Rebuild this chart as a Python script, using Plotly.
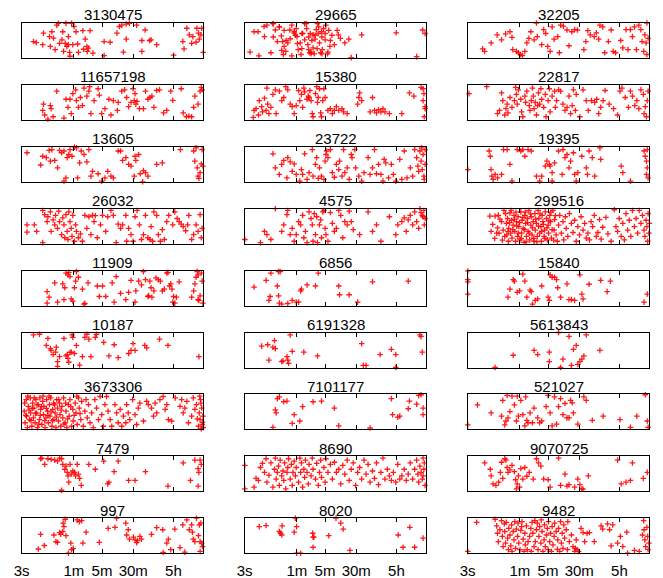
import math
import plotly.graph_objects as go

# Each panel: list of (log10 of interval in seconds, vertical jitter position 0..1)
p3130475 = [(0.77,0.47),(0.84,0.44),(1.02,0.71),(1.00,0.38),(1.19,0.33),(1.17,0.61),(1.23,0.75),(1.27,0.57),(1.31,0.24),(1.35,0.94),(1.39,0.99),(1.37,-0.05),(1.42,0.42),(1.48,0.52),(1.50,0.75),(1.52,0.19),(1.56,0.42),(1.58,0.99),(1.60,0.33),(1.64,0.38),(1.64,0.61),(1.68,0.05),(1.72,0.99),(1.67,0.16),(1.78,0.90),(1.75,0.38),(1.83,0.75),(1.87,0.40),(1.89,0.16),(2.00,0.78),(2.02,0.25),(2.06,0.54),(2.10,0.33),(2.14,0.28),(2.18,0.78),(2.25,0.14),(2.11,0.19),(2.53,0.47),(2.53,0.07),(2.68,0.45),(2.85,0.71),(2.91,0.90),(2.97,0.94),(3.08,0.54),(3.08,0.97),(3.16,0.99),(3.34,0.94),(3.01,0.17),(3.47,0.19),(3.47,0.50),(3.55,0.80),(3.66,0.50),(3.70,0.52),(3.84,0.38),(4.26,0.08),(4.49,0.47),(4.52,0.26),(4.59,0.85),(4.65,0.66),(4.71,0.42),(4.74,0.61),(4.84,0.85),(4.88,0.71),(4.90,0.54),(4.94,0.66),(4.96,0.85),(5.00,0.16),(4.82,0.45)]

p29665 = [(0.61,0.17),(0.71,0.75),(0.81,0.75),(0.83,0.06),(0.97,0.61),(1.03,0.94),(1.18,0.98),(1.24,0.80),(1.34,0.89),(1.39,0.63),(1.42,0.47),(1.46,0.33),(1.50,0.19),(1.55,0.43),(1.60,0.80),(1.65,0.94),(1.71,0.75),(1.76,0.84),(1.78,0.61),(1.81,0.24),(1.86,0.43),(1.88,0.10),(1.92,0.70),(1.97,0.98),(2.02,0.84),(2.05,0.38),(2.07,0.24),(2.10,0.15),(2.13,0.17),(2.18,0.66),(2.23,0.54),(2.26,0.81),(2.31,0.70),(2.34,0.43),(2.37,0.15),(2.39,0.75),(2.41,0.24),(2.44,0.84),(2.50,0.94),(2.55,0.17),(2.60,0.33),(2.71,0.38),(2.81,0.66),(2.86,0.56),(2.97,0.43),(3.07,0.54),(3.13,0.01),(3.39,0.66),(4.25,0.72),(4.76,0.04),(4.91,0.80),(4.97,0.70),(1.44,0.10),(1.65,0.06),(1.97,0.52),(2.18,0.29),(2.29,0.98),(2.48,0.52),(1.13,0.15),(1.29,0.47),(0.96,0.90),(1.19,0.98),(1.34,0.89),(1.46,0.79),(1.51,0.50),(1.61,0.55),(1.71,0.71),(1.74,0.65),(1.79,0.41),(1.90,0.70),(2.01,0.98),(2.07,0.60),(2.11,0.70),(2.15,0.50),(2.23,0.65),(2.32,0.89),(2.40,0.60),(2.48,0.70),(2.57,0.79),(2.65,0.65),(2.78,0.79),(2.13,0.12),(2.21,0.12),(2.40,0.12),(2.54,0.12),(1.40,0.22),(1.90,0.27),(2.28,0.27),(2.61,0.50),(1.19,0.60)]

p32205 = [(0.85,0.26),(0.90,0.19),(1.06,0.43),(1.21,0.66),(1.32,0.52),(1.42,0.69),(1.53,0.75),(1.58,0.59),(1.60,0.24),(1.69,0.19),(1.74,0.15),(1.79,0.10),(1.84,0.07),(1.90,0.19),(1.95,0.43),(2.00,0.56),(2.05,0.75),(2.13,0.52),(2.19,1.00),(2.21,0.61),(2.32,0.38),(2.37,0.81),(2.42,0.70),(2.47,0.33),(2.53,0.19),(2.58,0.89),(2.63,0.54),(2.72,0.61),(2.76,0.15),(2.79,0.94),(2.86,0.91),(2.95,0.80),(3.00,0.35),(3.07,0.75),(3.14,0.81),(3.21,0.80),(3.37,0.24),(3.42,0.47),(3.47,0.78),(3.53,0.66),(3.63,0.61),(3.68,0.72),(3.74,0.54),(3.77,0.94),(3.84,0.89),(3.89,0.15),(3.98,0.47),(4.05,0.80),(4.10,0.19),(4.16,0.15),(4.29,0.50),(4.34,0.29),(4.42,0.81),(4.47,0.24),(4.53,0.81),(4.58,0.61),(4.63,0.89),(4.68,0.24),(4.74,0.94),(4.79,0.81),(4.82,0.47),(4.86,0.19),(4.89,0.66),(4.92,0.43),(4.94,1.00),(4.94,0.10),(4.97,0.56)]

p11657198 = [(1.00,0.27),(1.02,0.45),(1.05,0.14),(1.13,0.02),(1.19,0.41),(1.21,0.32),(1.26,0.09),(1.30,-0.02),(1.35,0.82),(1.53,0.05),(1.58,0.59),(1.63,0.36),(1.68,0.59),(1.71,0.18),(1.75,0.75),(1.82,0.86),(1.84,0.55),(1.89,0.36),(1.94,0.64),(1.99,0.41),(2.03,0.91),(2.10,0.68),(2.15,0.82),(2.17,0.95),(2.20,0.18),(2.28,0.55),(2.38,0.89),(2.41,0.71),(2.47,0.18),(2.55,0.32),(2.65,0.59),(2.70,0.14),(2.76,0.55),(2.86,0.27),(2.88,0.50),(2.97,0.82),(3.04,0.86),(3.09,0.64),(3.14,0.38),(3.20,0.50),(3.25,0.89),(3.28,0.55),(3.30,0.75),(3.32,0.45),(3.35,0.53),(3.41,0.32),(3.51,0.32),(3.56,0.82),(3.62,0.59),(3.67,0.64),(3.72,0.68),(3.77,0.36),(3.84,0.84),(3.91,0.86),(4.01,0.20),(4.09,0.27),(4.19,0.82),(4.24,0.56),(4.45,0.89),(4.50,0.20),(4.58,0.09),(4.64,0.11),(4.71,0.09),(4.76,0.36),(4.79,0.68),(4.87,0.45),(4.92,0.82),(4.95,0.93),(4.97,0.86)]

p15380 = [(0.69,0.07),(0.71,0.27),(0.76,0.32),(0.82,0.14),(0.84,0.55),(0.90,0.38),(0.92,0.23),(0.97,0.62),(1.01,0.27),(1.03,0.91),(1.05,0.45),(1.08,0.18),(1.13,0.36),(1.18,0.73),(1.24,0.86),(1.26,0.18),(1.34,0.82),(1.40,0.55),(1.45,0.64),(1.50,0.95),(1.55,0.86),(1.61,0.45),(1.66,0.38),(1.71,0.18),(1.76,0.41),(1.82,0.84),(1.85,0.55),(1.89,0.73),(1.92,0.36),(1.95,0.91),(1.97,0.80),(2.03,0.59),(2.06,0.68),(2.08,0.64),(2.10,0.84),(2.13,0.55),(2.16,0.18),(2.18,0.09),(2.24,0.75),(2.27,0.95),(2.29,0.50),(2.31,0.64),(2.34,0.89),(2.37,0.20),(2.39,0.09),(2.42,0.55),(2.45,0.89),(2.48,0.64),(2.55,0.27),(2.61,0.32),(2.66,0.18),(2.71,0.27),(2.76,0.38),(2.82,0.27),(2.90,0.32),(2.94,0.23),(3.03,0.18),(3.32,0.64),(3.29,0.45),(3.34,0.77),(3.39,0.55),(3.60,0.23),(3.66,0.64),(3.71,0.27),(3.76,0.20),(3.81,0.29),(3.87,0.23),(3.92,0.32),(3.97,0.23),(4.08,0.18),(4.39,0.18),(4.58,0.77),(4.69,0.68),(4.87,0.93),(4.92,0.89),(4.94,0.75),(4.97,0.38),(4.97,0.32),(4.95,0.09),(4.92,0.55)]

p22817 = [(0.51,0.75),(0.95,0.95),(1.22,0.18),(1.27,0.27),(1.32,0.77),(1.35,0.55),(1.40,0.14),(1.43,0.32),(1.46,0.45),(1.48,0.20),(1.53,0.64),(1.58,0.36),(1.64,0.55),(1.67,0.93),(1.69,0.73),(1.71,0.45),(1.74,0.86),(1.80,0.59),(1.82,0.23),(1.85,0.09),(1.90,0.68),(1.92,0.50),(1.95,0.82),(2.01,0.41),(2.03,0.27),(2.06,0.55),(2.09,0.91),(2.11,0.68),(2.13,0.32),(2.16,0.50),(2.19,0.14),(2.22,0.41),(2.24,0.77),(2.27,0.45),(2.30,0.89),(2.32,0.59),(2.37,0.36),(2.41,0.73),(2.43,0.09),(2.48,0.55),(2.51,0.89),(2.53,0.23),(2.58,0.68),(2.64,0.82),(2.66,0.36),(2.69,0.55),(2.74,0.86),(2.79,0.82),(2.85,0.45),(2.90,0.27),(2.95,0.36),(3.00,0.68),(3.04,0.18),(3.08,0.41),(3.11,0.86),(3.16,0.27),(3.18,0.73),(3.27,0.09),(3.35,0.86),(3.43,0.55),(3.48,0.27),(3.56,0.55),(3.64,0.50),(3.69,0.59),(3.74,0.18),(3.79,0.36),(3.85,0.55),(3.90,0.84),(4.00,0.45),(4.11,0.32),(4.21,0.14),(4.27,0.82),(4.32,0.91),(4.40,0.64),(4.48,0.36),(4.53,0.82),(4.58,0.68),(4.64,0.41),(4.69,0.55),(4.74,0.32),(4.79,0.86),(4.85,0.73),(4.87,0.18),(4.90,0.38),(4.93,0.09),(4.95,0.55),(4.97,0.82)]

p13605 = [(0.61,0.83),(0.95,0.48),(1.00,0.73),(1.09,0.69),(1.16,0.90),(1.19,0.59),(1.23,0.92),(1.30,0.61),(1.37,0.40),(1.42,0.90),(1.47,0.83),(1.53,0.88),(1.53,0.02),(1.58,0.11),(1.61,0.69),(1.65,0.78),(1.68,0.92),(1.73,0.73),(1.79,0.99),(1.84,0.97),(1.87,0.11),(1.92,0.54),(1.96,0.88),(2.03,0.78),(2.10,0.57),(2.15,0.92),(2.20,0.16),(2.24,0.30),(2.38,0.23),(2.47,0.02),(2.55,0.11),(2.62,0.30),(2.70,0.16),(2.76,0.11),(2.88,0.88),(2.94,0.88),(2.99,0.61),(3.07,0.69),(3.14,0.50),(3.20,0.45),(3.28,0.16),(3.30,0.73),(3.32,0.61),(3.39,0.78),(3.43,0.23),(3.49,0.00),(3.51,0.32),(3.56,0.26),(3.62,0.16),(3.80,1.02),(3.84,0.50),(3.98,0.54),(4.43,0.92),(4.76,0.88),(4.82,0.97),(4.79,0.59),(4.85,0.40),(4.87,0.16),(4.89,0.10),(4.92,0.26),(4.95,0.51),(4.97,0.92),(4.99,0.45)]

p23722 = [(1.18,0.80),(1.24,0.40),(1.34,0.21),(1.40,0.50),(1.45,0.61),(1.53,0.11),(1.55,0.69),(1.61,0.57),(1.66,0.30),(1.71,0.51),(1.76,0.21),(1.85,0.02),(1.89,0.35),(1.92,0.21),(1.97,0.80),(2.03,0.07),(2.08,0.26),(2.16,0.92),(2.18,0.16),(2.24,0.50),(2.27,0.69),(2.31,0.10),(2.34,0.40),(2.39,0.16),(2.45,0.07),(2.48,0.59),(2.50,0.78),(2.52,0.88),(2.55,0.69),(2.61,0.92),(2.66,0.26),(2.71,0.13),(2.76,0.50),(2.82,0.35),(2.84,0.59),(2.90,0.16),(2.94,0.92),(2.97,0.26),(3.03,0.40),(3.08,0.07),(3.13,0.78),(3.15,0.69),(3.22,0.92),(3.24,0.40),(3.32,0.16),(3.39,0.02),(3.45,0.26),(3.55,0.69),(3.60,0.21),(3.66,0.40),(3.71,0.92),(3.76,0.23),(3.81,0.50),(3.87,0.21),(3.92,0.02),(3.95,0.64),(3.99,0.54),(4.06,0.11),(4.13,0.50),(4.18,0.21),(4.24,0.02),(4.34,0.64),(4.39,0.07),(4.45,0.88),(4.52,0.11),(4.60,0.40),(4.66,0.16),(4.71,0.92),(4.76,0.69),(4.79,0.45),(4.81,0.30),(4.84,0.88),(4.87,0.59),(4.90,0.35),(4.92,0.78),(4.94,0.16),(4.97,0.92),(4.97,0.50),(4.95,0.07),(4.88,0.97)]

p19395 = [(0.48,0.35),(1.01,0.88),(1.04,0.73),(1.06,0.35),(1.08,0.16),(1.11,0.07),(1.16,0.21),(1.22,0.11),(1.32,0.21),(1.37,0.92),(1.46,0.92),(1.53,0.50),(1.58,0.02),(1.71,0.92),(1.80,0.88),(1.85,0.92),(1.90,0.73),(1.98,0.92),(2.06,0.88),(2.13,1.02),(2.19,0.16),(2.27,0.02),(2.32,0.16),(2.41,0.45),(2.45,0.59),(2.51,0.50),(2.53,0.45),(2.58,0.02),(2.58,0.26),(2.64,0.54),(2.74,0.88),(2.83,0.21),(2.85,0.92),(2.90,0.69),(2.95,0.78),(3.00,0.40),(3.04,0.59),(3.11,0.83),(3.14,0.21),(3.18,0.02),(3.22,0.26),(3.32,0.73),(3.43,0.40),(3.46,0.21),(3.50,0.88),(3.58,0.69),(3.64,0.16),(3.77,0.97),(3.79,0.64),(4.00,1.02),(4.30,0.45),(4.34,0.26),(4.53,0.02),(4.85,1.02),(4.87,0.88),(4.90,0.73),(4.93,0.59),(4.95,0.40),(4.93,0.21),(4.97,0.11),(4.95,0.92)]

p26032 = [(0.61,0.54),(0.61,0.33),(0.79,0.54),(0.85,0.35),(1.00,0.03),(1.00,0.95),(1.05,0.83),(1.11,0.63),(1.13,0.77),(1.19,0.91),(1.21,0.35),(1.26,0.68),(1.30,0.54),(1.32,0.81),(1.37,0.44),(1.40,0.93),(1.42,0.63),(1.47,0.26),(1.50,0.74),(1.53,0.54),(1.55,0.17),(1.58,0.83),(1.61,0.35),(1.63,0.12),(1.65,0.91),(1.68,0.63),(1.71,0.44),(1.73,0.21),(1.75,0.81),(1.79,0.07),(1.82,0.54),(1.84,0.35),(1.89,0.17),(1.94,0.28),(1.99,0.07),(2.05,0.81),(2.10,0.44),(2.15,0.77),(2.20,0.26),(2.24,0.81),(2.28,0.63),(2.31,0.80),(2.36,0.17),(2.44,0.54),(2.49,0.81),(2.57,0.35),(2.62,0.77),(2.70,0.95),(2.76,0.81),(2.83,0.03),(2.88,0.56),(2.94,0.44),(2.99,0.54),(3.07,0.81),(3.09,0.07),(3.14,0.44),(3.20,0.26),(3.25,0.07),(3.30,0.77),(3.35,0.95),(3.41,0.54),(3.46,0.12),(3.51,0.26),(3.56,0.81),(3.62,0.17),(3.67,0.12),(3.70,0.49),(3.74,0.07),(3.77,0.91),(3.84,0.81),(3.88,0.26),(3.93,0.07),(3.98,0.40),(4.03,0.12),(4.09,0.63),(4.14,0.81),(4.24,0.54),(4.29,0.91),(4.35,0.72),(4.40,0.63),(4.45,0.56),(4.50,0.49),(4.56,0.37),(4.61,0.54),(4.64,0.81),(4.71,0.12),(4.76,0.26),(4.82,0.54),(4.87,0.35),(4.92,0.83),(4.95,0.17),(4.97,0.44)]

p4575 = [(0.48,0.12),(0.87,0.03),(0.97,0.35),(1.03,0.26),(1.13,0.12),(1.24,1.00),(1.40,0.35),(1.45,0.54),(1.53,0.83),(1.55,0.95),(1.61,0.26),(1.66,0.44),(1.71,0.07),(1.76,0.26),(1.82,0.63),(1.87,0.54),(1.92,0.81),(1.95,0.17),(1.99,0.35),(2.03,0.03),(2.08,0.91),(2.13,0.72),(2.16,0.54),(2.18,0.07),(2.21,0.86),(2.24,0.26),(2.27,0.77),(2.29,0.03),(2.34,0.54),(2.37,0.68),(2.39,0.17),(2.42,0.91),(2.45,0.95),(2.48,0.44),(2.50,0.26),(2.55,0.07),(2.61,0.89),(2.66,0.58),(2.71,0.35),(2.76,0.44),(2.82,0.95),(2.87,0.81),(2.92,0.17),(2.97,0.63),(3.03,0.54),(3.08,0.93),(3.13,0.63),(3.18,0.40),(3.34,0.26),(3.55,0.91),(3.66,0.35),(3.76,0.54),(3.87,0.07),(4.08,0.77),(4.24,0.26),(4.29,0.54),(4.39,0.63),(4.45,0.74),(4.50,0.35),(4.55,0.68),(4.60,0.81),(4.66,0.54),(4.71,0.91),(4.76,0.63),(4.81,0.44),(4.87,0.89),(4.92,0.77),(4.94,0.95),(4.97,0.72),(4.95,0.54),(4.90,0.81),(4.84,1.00)]

p299516 = [(1.03,0.79),(1.06,0.35),(1.16,0.79),(1.20,0.30),(1.24,0.81),(1.32,0.63),(1.36,0.39),(1.40,0.21),(1.42,0.86),(1.44,0.58),(1.47,0.72),(1.49,0.07),(1.50,0.44),(1.53,0.88),(1.55,0.30),(1.57,0.67),(1.58,0.16),(1.61,0.53),(1.63,0.81),(1.65,0.35),(1.67,0.07),(1.69,0.63),(1.72,0.21),(1.73,0.77),(1.75,0.49),(1.78,0.11),(1.80,0.91),(1.82,0.30),(1.83,0.67),(1.86,0.44),(1.88,0.04),(1.90,0.81),(1.92,0.58),(1.94,0.21),(1.96,0.72),(1.98,0.35),(2.00,0.95),(2.02,0.11),(2.05,0.53),(2.06,0.77),(2.08,0.25),(2.11,0.63),(2.13,0.07),(2.15,0.86),(2.16,0.39),(2.19,0.58),(2.21,0.21),(2.23,0.95),(2.25,0.72),(2.27,0.30),(2.30,0.49),(2.31,0.07),(2.33,0.81),(2.35,0.63),(2.38,0.21),(2.39,0.39),(2.41,0.91),(2.44,0.72),(2.46,0.11),(2.48,0.53),(2.49,0.30),(2.52,0.81),(2.54,0.63),(2.56,0.16),(2.60,0.95),(2.63,0.39),(2.64,0.69),(2.68,0.25),(2.71,0.07),(2.74,0.53),(2.77,0.81),(2.81,0.30),(2.85,0.63),(2.87,0.11),(2.91,0.77),(2.93,0.44),(2.97,0.21),(3.01,0.86),(3.06,0.58),(3.10,0.32),(3.14,0.67),(3.18,0.07),(3.22,0.49),(3.26,0.25),(3.30,0.77),(3.35,0.39),(3.39,0.58),(3.43,0.16),(3.47,0.30),(3.51,0.11),(3.55,0.63),(3.59,0.49),(3.63,0.81),(3.68,0.21),(3.72,0.32),(3.76,0.69),(3.80,0.13),(3.84,0.47),(3.92,0.75),(3.97,0.28),(4.05,0.07),(4.13,0.97),(4.17,0.49),(4.21,0.35),(4.25,0.72),(4.30,0.21),(4.34,0.58),(4.38,0.11),(4.42,0.86),(4.46,0.39),(4.50,0.67),(4.54,0.21),(4.58,0.95),(4.63,0.49),(4.67,0.72),(4.71,0.30),(4.75,0.95),(4.79,0.58),(4.83,0.81),(4.87,0.39),(4.89,0.21),(4.92,0.67),(4.94,0.49),(4.96,0.07),(4.97,0.86),(4.99,0.30),(5.00,0.58),(1.10,0.55),(1.15,0.15),(1.22,0.45),(1.28,0.70),(1.34,0.10),(1.38,0.95),(1.45,0.25),(1.52,0.60),(1.56,0.95),(1.60,0.40),(1.64,0.70),(1.70,0.50),(1.74,0.30),(1.77,0.60),(1.81,0.15),(1.85,0.75),(1.89,0.40),(1.93,0.05),(1.97,0.60),(2.01,0.30),(2.04,0.85),(2.09,0.45),(2.12,0.15),(2.17,0.70),(2.20,0.05),(2.24,0.50),(2.28,0.85),(2.32,0.35),(2.36,0.55),(2.40,0.15),(2.45,0.45),(2.50,0.65),(2.55,0.90),(2.58,0.40),(2.62,0.10),(2.66,0.80),(1.26,0.30),(1.48,0.35),(1.68,0.90),(1.91,0.90)]

p11909 = [(1.11,0.40),(1.16,0.24),(1.11,0.07),(1.30,0.65),(1.37,0.10),(1.50,0.62),(1.53,0.17),(1.55,0.51),(1.58,0.93),(1.63,0.88),(1.65,0.95),(1.68,0.83),(1.71,0.19),(1.75,0.13),(1.79,0.51),(1.82,0.70),(1.84,0.97),(1.89,0.81),(1.99,0.47),(2.03,0.04),(2.05,0.06),(2.13,0.65),(2.36,0.56),(2.41,0.26),(2.49,0.56),(2.57,0.26),(2.73,0.65),(2.78,0.10),(2.83,0.83),(2.94,0.35),(3.07,0.17),(3.14,0.38),(3.20,0.72),(3.30,0.10),(3.32,0.42),(3.39,0.70),(3.46,0.59),(3.51,0.97),(3.56,0.74),(3.62,0.26),(3.64,0.28),(3.67,0.70),(3.70,0.51),(3.72,0.24),(3.77,0.42),(3.82,0.79),(3.88,0.74),(3.93,0.70),(3.98,0.42),(4.03,0.47),(4.09,0.93),(4.12,0.95),(4.16,0.56),(4.19,0.62),(4.22,0.47),(4.24,0.10),(4.26,0.26),(4.29,0.07),(4.33,0.24),(4.40,0.68),(4.71,0.24),(4.76,0.42),(4.79,0.62),(4.82,0.81),(4.85,0.97),(4.87,0.88),(4.89,0.15),(4.92,0.28),(4.95,0.93),(4.97,0.70),(4.99,0.07),(4.87,0.17)]

p6856 = [(0.71,0.53),(1.01,0.72),(1.08,0.15),(1.11,0.26),(1.13,0.93),(1.32,0.97),(1.36,0.97),(1.29,0.56),(1.32,0.28),(1.34,0.07),(1.40,0.04),(1.55,0.06),(1.66,0.15),(1.76,0.10),(1.82,0.10),(1.87,0.42),(1.89,0.47),(2.03,0.59),(2.24,0.56),(2.31,0.93),(2.82,0.56),(2.84,0.31),(3.08,0.31),(3.29,0.10),(3.66,0.68),(4.55,0.70)]

p15840 = [(0.48,0.99),(0.48,0.74),(0.48,0.68),(0.48,0.33),(1.48,0.24),(1.53,0.47),(1.61,0.74),(1.64,0.70),(1.71,0.38),(1.77,0.42),(1.85,0.90),(1.90,0.70),(1.95,0.24),(2.03,0.44),(2.06,0.40),(2.09,0.04),(2.16,0.15),(2.22,0.19),(2.32,0.56),(2.48,0.24),(2.51,0.15),(2.53,0.88),(2.58,0.81),(2.64,0.81),(2.69,0.74),(2.72,0.51),(2.79,0.24),(2.95,0.62),(3.00,0.17),(3.06,0.17),(3.14,0.15),(3.27,0.88),(3.32,0.33),(3.35,0.19),(3.50,0.61),(3.79,0.72),(3.95,0.40),(4.03,0.70),(4.87,0.10),(4.95,0.33)]

p10187 = [(0.77,0.93),(0.92,0.95),(1.13,0.83),(1.09,0.63),(1.19,0.54),(1.21,0.49),(1.26,0.37),(1.32,0.44),(1.34,0.58),(1.37,0.17),(1.37,0.03),(1.42,0.31),(1.53,0.83),(1.58,0.33),(1.61,0.37),(1.63,0.26),(1.65,0.15),(1.68,0.43),(1.71,0.44),(1.73,0.93),(1.75,0.86),(1.79,0.40),(1.84,0.63),(1.92,0.07),(1.99,0.31),(2.05,0.86),(2.10,0.95),(2.15,0.81),(2.20,0.31),(2.26,1.02),(2.31,0.86),(2.34,0.95),(2.52,0.72),(2.65,0.33),(2.78,0.65),(2.88,0.28),(3.14,0.40),(3.20,0.49),(3.25,0.68),(3.30,0.49),(3.54,0.63),(3.59,0.56),(3.91,0.81),(4.12,0.63),(4.89,0.31)]

p6191328 = [(0.90,0.61),(1.05,0.65),(1.18,0.58),(1.22,0.77),(1.24,0.54),(1.08,0.21),(1.40,0.17),(1.43,0.19),(1.53,0.31),(1.55,0.21),(1.57,0.12),(1.61,0.93),(1.66,0.46),(1.95,0.44),(2.29,0.33),(3.39,0.68),(3.43,0.06),(3.50,0.06),(3.85,0.37),(4.13,0.52),(4.24,0.37),(4.24,0.00),(4.84,0.93),(4.87,0.89),(4.90,0.44)]

p5613843 = [(1.16,0.00),(1.61,0.35),(2.13,0.49),(2.22,0.37),(2.51,0.44),(2.51,0.17),(2.74,1.00),(2.79,0.00),(2.85,0.24),(3.00,0.89),(3.06,0.06),(3.11,0.52),(3.18,0.63),(3.22,0.09),(3.27,0.17),(3.32,0.24),(3.37,0.33),(3.43,0.93),(3.77,0.49)]

p3673306 = [(0.54,0.52),(0.56,0.19),(0.59,0.85),(0.60,0.38),(0.62,0.05),(0.64,0.66),(0.67,0.28),(0.69,0.90),(0.70,0.47),(0.73,0.09),(0.75,0.75),(0.77,0.33),(0.78,0.61),(0.81,0.19),(0.83,0.85),(0.85,0.47),(0.87,0.05),(0.89,0.71),(0.92,0.28),(0.93,0.90),(0.95,0.57),(0.98,0.14),(1.00,0.80),(1.02,0.42),(1.03,0.66),(1.06,0.05),(1.08,0.33),(1.10,0.85),(1.12,0.52),(1.14,0.19),(1.17,0.71),(1.18,0.38),(1.20,0.90),(1.23,0.09),(1.25,0.57),(1.27,0.75),(1.28,0.28),(1.31,0.47),(1.33,0.05),(1.35,0.85),(1.37,0.61),(1.39,0.24),(1.42,0.75),(1.43,0.42),(1.45,0.09),(1.48,0.66),(1.50,0.33),(1.52,0.90),(1.56,0.19),(1.58,0.52),(1.60,0.05),(1.64,0.71),(1.66,0.38),(1.68,0.85),(1.72,0.09),(1.75,0.57),(1.76,0.24),(1.81,0.75),(1.83,0.47),(1.86,0.14),(1.89,0.90),(1.91,0.61),(1.95,0.28),(1.97,0.80),(2.01,0.09),(2.05,0.52),(2.08,0.85),(2.11,0.33),(2.14,0.71),(2.18,0.19),(2.22,0.47),(2.26,0.05),(2.30,0.85),(2.34,0.61),(2.39,0.28),(2.43,0.94),(2.47,0.42),(2.51,0.09),(2.55,0.71),(2.59,0.94),(2.63,0.52),(2.68,0.28),(2.72,0.09),(2.80,0.71),(2.84,0.47),(2.88,0.19),(2.93,0.57),(2.97,0.09),(3.01,0.38),(3.07,0.19),(3.09,0.71),(3.13,0.47),(3.17,0.28),(3.24,0.85),(3.30,0.42),(3.34,0.14),(3.38,0.61),(3.42,0.75),(3.51,0.24),(3.59,0.80),(3.63,0.71),(3.71,0.61),(3.76,0.38),(3.80,0.75),(3.84,0.47),(3.92,0.85),(4.00,0.94),(4.05,0.57),(4.09,0.71),(4.13,0.28),(4.21,0.24),(4.30,0.90),(4.42,0.66),(4.46,0.85),(4.50,0.47),(4.54,0.61),(4.59,0.80),(4.63,0.19),(4.71,0.38),(4.75,0.90),(4.79,0.57),(4.83,0.71),(4.88,0.09),(4.90,0.47),(4.92,0.28),(4.93,0.85),(4.96,0.61),(4.97,0.14),(4.99,0.38),(5.00,0.05),(4.95,0.02),(0.55,0.75),(0.58,0.40),(0.63,0.95),(0.66,0.55),(0.71,0.25),(0.74,0.60),(0.79,0.90),(0.82,0.45),(0.86,0.70),(0.90,0.15),(0.94,0.40),(0.97,0.65),(1.01,0.95),(1.05,0.25),(1.09,0.60),(1.13,0.40),(1.16,0.95),(1.21,0.50),(1.24,0.25),(1.30,0.70),(1.34,0.35),(1.40,0.85),(1.46,0.55),(1.53,0.15),(1.57,0.75),(1.62,0.30),(1.70,0.65),(1.78,0.40),(1.85,0.95),(1.93,0.45),(4.85,0.30),(4.94,0.75),(4.98,0.20),(4.91,0.95)]

p7101177 = [(1.18,0.06),(1.24,0.56),(1.26,0.47),(1.29,0.88),(1.34,0.93),(1.45,0.79),(1.53,0.81),(1.66,0.17),(1.71,0.42),(1.85,0.24),(1.92,0.65),(2.18,0.79),(2.39,0.81),(2.71,0.61),(2.82,0.10),(3.60,0.04),(4.13,0.88),(4.16,0.42),(4.29,0.35),(4.34,0.38),(4.55,0.59),(4.58,0.81),(4.76,0.72),(4.81,0.97),(4.87,0.99),(4.92,0.61),(4.92,0.42),(4.97,-0.02)]

p521027 = [(0.48,0.13),(0.72,0.70),(1.06,0.47),(1.32,0.38),(1.35,0.83),(1.40,0.13),(1.43,0.24),(1.46,0.97),(1.48,0.33),(1.53,0.51),(1.58,0.95),(1.64,0.70),(1.69,0.24),(1.71,0.95),(1.74,0.38),(1.80,0.83),(1.85,0.42),(1.90,0.10),(1.92,0.93),(1.95,0.26),(1.98,0.19),(2.03,0.47),(2.09,0.19),(2.13,0.61),(2.22,0.33),(2.27,0.19),(2.32,0.24),(2.43,0.65),(2.48,0.97),(2.53,0.47),(2.58,0.10),(2.64,0.93),(2.69,0.15),(2.74,0.65),(2.79,0.88),(2.85,0.42),(2.90,0.74),(2.95,0.33),(3.00,0.33),(3.04,0.83),(3.08,0.76),(3.11,0.47),(3.22,0.15),(3.37,0.93),(3.43,0.83),(3.58,0.26),(3.85,0.38),(4.27,0.28),(4.53,0.06),(4.69,0.38),(4.90,0.99),(4.95,0.24),(4.97,0.06)]

p7479 = [(0.95,0.93),(0.98,0.95),(1.05,0.77),(1.13,0.93),(1.21,0.91),(1.30,0.89),(1.37,0.86),(1.42,0.95),(1.47,0.93),(1.50,0.77),(1.55,0.63),(1.58,0.72),(1.61,0.54),(1.63,0.44),(1.65,0.26),(1.68,0.77),(1.71,0.49),(1.75,0.58),(1.79,0.54),(1.82,0.44),(1.86,0.77),(1.89,0.49),(1.92,0.37),(1.96,0.17),(1.47,0.03),(2.15,0.77),(2.31,0.63),(2.52,0.86),(2.62,0.21),(2.65,0.26),(2.78,0.56),(2.88,0.86),(3.14,0.31),(3.30,0.31),(3.56,0.56),(4.12,0.15),(4.50,0.81),(4.68,0.31),(4.79,0.89),(4.87,0.65),(4.89,0.54),(4.87,0.15),(4.92,0.89),(4.95,0.77)]

p8690 = [(0.48,0.74),(0.48,0.07),(0.71,0.12),(0.76,0.37),(0.82,0.31),(0.87,0.68),(0.92,0.80),(0.97,0.54),(1.01,0.93),(1.03,0.26),(1.08,0.46),(1.13,0.81),(1.18,0.12),(1.22,0.63),(1.24,0.95),(1.26,0.35),(1.29,0.54),(1.32,0.72),(1.34,0.17),(1.36,0.89),(1.40,0.44),(1.43,0.58),(1.45,0.31),(1.47,0.81),(1.50,0.07),(1.53,0.54),(1.55,0.68),(1.57,0.93),(1.61,0.35),(1.64,0.77),(1.66,0.17),(1.68,0.54),(1.71,0.86),(1.74,0.44),(1.76,0.68),(1.82,0.26),(1.85,0.95),(1.87,0.54),(1.89,0.81),(1.92,0.12),(1.95,0.63),(1.97,0.40),(1.99,0.89),(2.03,0.54),(2.06,0.21),(2.08,0.77),(2.13,0.44),(2.16,0.95),(2.18,0.63),(2.24,0.35),(2.27,0.80),(2.31,0.17),(2.34,0.54),(2.37,0.89),(2.39,0.40),(2.45,0.68),(2.48,0.26),(2.50,0.93),(2.55,0.54),(2.61,0.77),(2.66,0.35),(2.71,0.83),(2.76,0.54),(2.82,0.63),(2.87,0.21),(2.92,0.74),(2.97,0.49),(3.03,0.89),(3.08,0.31),(3.13,0.63),(3.18,0.81),(3.24,0.17),(3.29,0.54),(3.34,0.68),(3.39,0.35),(3.45,0.89),(3.50,0.49),(3.55,0.77),(3.60,0.26),(3.66,0.58),(3.71,0.37),(3.76,0.81),(3.81,0.19),(3.87,0.54),(3.92,0.95),(3.97,0.35),(4.03,0.63),(4.08,0.44),(4.13,0.31),(4.18,0.54),(4.24,0.26),(4.29,0.77),(4.34,0.35),(4.39,0.44),(4.45,0.63),(4.50,0.31),(4.55,0.49),(4.60,0.81),(4.66,0.35),(4.71,0.63),(4.76,0.89),(4.79,0.49),(4.81,0.26),(4.84,0.72),(4.87,0.54),(4.90,0.35),(4.92,0.95),(4.94,0.63),(4.97,0.17),(4.95,0.81),(4.92,0.44)]

p9070725 = [(0.90,0.81),(1.04,0.63),(1.06,0.44),(1.11,0.21),(1.18,0.17),(1.25,0.26),(1.29,0.54),(1.32,0.83),(1.35,0.37),(1.40,0.93),(1.43,0.89),(1.46,0.68),(1.48,0.54),(1.53,0.61),(1.58,0.74),(1.64,0.56),(1.67,0.33),(1.71,0.21),(1.69,0.07),(1.74,0.44),(1.77,0.12),(1.80,0.65),(1.85,0.35),(1.90,0.68),(1.95,0.43),(2.01,0.54),(2.11,0.35),(2.19,0.93),(2.24,0.81),(2.30,0.72),(2.37,0.35),(2.48,0.33),(2.53,0.12),(2.74,0.95),(2.79,0.17),(2.90,0.49),(2.95,0.15),(3.00,0.19),(3.14,0.12),(3.22,0.35),(3.27,0.19),(3.32,0.07),(3.35,0.06),(3.48,0.44),(4.21,0.89),(4.30,0.21),(4.42,0.26),(4.53,0.31),(4.58,0.81),(4.85,0.37),(4.95,0.54)]

p997 = [(0.89,0.12),(0.95,0.54),(1.04,0.22),(1.28,0.52),(1.33,0.33),(1.37,0.31),(1.42,0.59),(1.45,0.54),(1.50,0.62),(1.51,0.86),(1.53,0.76),(1.56,0.97),(1.58,0.50),(1.64,0.00),(1.70,0.29),(1.72,0.10),(1.76,0.14),(1.86,0.95),(1.91,0.90),(1.97,0.93),(2.00,0.29),(2.08,0.60),(2.41,0.31),(2.63,0.71),(2.80,0.74),(2.84,1.00),(3.07,0.86),(3.09,0.52),(3.13,0.67),(3.16,0.40),(3.26,0.46),(3.30,0.38),(3.34,0.30),(3.36,0.36),(3.42,0.48),(3.46,0.40),(3.71,0.54),(3.84,0.73),(3.99,0.67),(4.00,0.02),(4.09,0.29),(4.13,0.40),(4.19,0.10),(4.29,0.69),(4.42,0.16),(4.49,0.81),(4.54,0.03),(4.59,0.95),(4.65,0.67),(4.71,0.81),(4.73,0.60),(4.75,0.40),(4.79,0.33),(4.83,1.00),(4.88,0.50),(4.90,0.81),(4.92,0.33),(4.94,0.86),(4.96,0.29),(4.98,0.19),(4.92,0.05)]

p8020 = [(0.84,0.76),(1.01,0.79),(1.34,0.62),(1.37,0.57),(1.40,0.52),(1.41,0.78),(1.71,0.60),(1.74,1.00),(1.77,0.76),(1.77,0.00),(1.87,0.00),(2.17,0.57),(2.18,0.46),(2.20,0.46),(2.18,0.17),(2.57,0.50),(2.75,1.00),(2.87,0.86),(2.93,0.69),(3.10,0.08),(4.30,0.52),(4.42,0.17),(4.59,0.74),(4.71,0.17),(4.92,0.43)]

p9482 = [(0.48,0.05),(0.70,0.88),(1.16,0.97),(1.20,0.78),(1.22,0.57),(1.24,0.33),(1.28,0.67),(1.32,0.93),(1.34,0.48),(1.36,0.19),(1.39,0.84),(1.40,0.62),(1.42,0.29),(1.44,0.88),(1.47,0.43),(1.49,0.10),(1.50,0.71),(1.53,0.52),(1.55,0.21),(1.57,0.81),(1.58,0.05),(1.61,0.62),(1.63,0.38),(1.65,0.90),(1.67,0.14),(1.69,0.69),(1.72,0.48),(1.73,0.86),(1.75,0.29),(1.78,0.10),(1.80,0.65),(1.82,0.76),(1.83,0.90),(1.86,0.40),(1.88,0.05),(1.90,0.57),(1.91,0.24),(1.94,0.78),(1.96,0.10),(1.98,0.33),(2.02,0.48),(2.05,0.71),(2.06,0.05),(2.08,0.88),(2.10,0.57),(2.13,0.19),(2.15,0.93),(2.16,0.33),(2.19,0.67),(2.21,0.86),(2.23,0.10),(2.25,0.48),(2.27,0.76),(2.30,0.29),(2.31,0.95),(2.33,0.62),(2.35,0.05),(2.38,0.38),(2.39,0.81),(2.41,0.19),(2.44,0.52),(2.46,0.71),(2.48,0.10),(2.49,0.90),(2.52,0.33),(2.54,0.57),(2.56,0.05),(2.58,0.76),(2.60,0.24),(2.63,0.48),(2.64,0.86),(2.68,0.62),(2.71,0.11),(2.72,0.38),(2.74,0.71),(2.77,0.05),(2.79,0.90),(2.81,0.29),(2.83,0.57),(2.85,0.14),(2.87,0.81),(2.89,0.43),(2.93,0.67),(2.96,0.10),(2.97,0.90),(3.01,0.33),(3.06,0.52),(3.10,0.19),(3.14,0.05),(3.16,0.14),(3.18,0.38),(3.20,0.10),(3.24,0.05),(3.30,0.71),(3.35,0.59),(3.39,0.33),(3.45,0.57),(3.51,0.59),(3.63,0.33),(3.80,0.78),(3.84,0.69),(3.96,0.84),(4.01,0.67),(4.05,0.21),(4.09,0.81),(4.21,0.29),(4.28,0.48),(4.34,0.19),(4.44,0.60),(4.46,0.00),(4.63,0.08),(4.75,0.05),(4.83,0.52),(4.86,0.93),(4.87,0.67),(4.89,0.38),(4.91,0.19),(4.94,0.74),(4.96,0.48),(4.97,0.10),(4.99,0.29)]

PANELS = [
    ("3130475", p3130475), ("29665", p29665), ("32205", p32205),
    ("11657198", p11657198), ("15380", p15380), ("22817", p22817),
    ("13605", p13605), ("23722", p23722), ("19395", p19395),
    ("26032", p26032), ("4575", p4575), ("299516", p299516),
    ("11909", p11909), ("6856", p6856), ("15840", p15840),
    ("10187", p10187), ("6191328", p6191328), ("5613843", p5613843),
    ("3673306", p3673306), ("7101177", p7101177), ("521027", p521027),
    ("7479", p7479), ("8690", p8690), ("9070725", p9070725),
    ("997", p997), ("8020", p8020), ("9482", p9482),
]

TICK_SECONDS = [3, 60, 300, 1800, 18000]
TICK_TEXT = ["3s", "1m", "5m", "30m", "5h"]
X_RANGE_SECONDS = (3, 100000)

# page geometry (pixels)
W, H = 663, 578
COL_LEFT = [21.7, 244.7, 467.7]
BOX_W = 181.6
ROW_TOP0 = 23.0
ROW_STEP = 61.9
BOX_H = 35.0
FONT = "Liberation Sans, Arial, Helvetica, sans-serif"

fig = go.Figure()
layout = {}
annotations = []
n_rows = 9
for i, (title, pts) in enumerate(PANELS):
    r, c = divmod(i, 3)
    k = i + 1
    xname = "x" if k == 1 else f"x{k}"
    yname = "y" if k == 1 else f"y{k}"
    fig.add_trace(go.Scatter(
        x=[10 ** p[0] for p in pts],
        y=[p[1] for p in pts],
        mode="markers",
        xaxis=xname, yaxis=yname,
        marker=dict(symbol="cross-thin", size=4,
                    line=dict(color="rgba(255,0,0,0.9)", width=1.3)),
        cliponaxis=False, hoverinfo="skip", showlegend=False,
    ))
    left = COL_LEFT[c]
    top = ROW_TOP0 + r * ROW_STEP
    xd = [left / W, (left + BOX_W) / W]
    yd = [1 - (top + BOX_H) / H, 1 - top / H]
    layout["xaxis" if k == 1 else f"xaxis{k}"] = dict(
        domain=xd, anchor=yname, type="log",
        range=[math.log10(X_RANGE_SECONDS[0]), math.log10(X_RANGE_SECONDS[1])],
        tickvals=TICK_SECONDS, ticktext=TICK_TEXT,
        ticks="inside", ticklen=4, tickwidth=1, tickcolor="black",
        showline=True, linecolor="black", linewidth=1, mirror="ticks",
        showgrid=False, zeroline=False, automargin=False,
        showticklabels=(r == n_rows - 1), ticklabelstandoff=4,
        tickfont=dict(family=FONT, size=15, color="black"),
    )
    layout["yaxis" if k == 1 else f"yaxis{k}"] = dict(
        domain=yd, anchor=xname, range=[0, 1],
        showticklabels=False, ticks="",
        showline=True, linecolor="black", linewidth=1, mirror=True,
        showgrid=False, zeroline=False, automargin=False,
    )
    annotations.append(dict(
        text=title, xref="paper", yref="paper",
        x=(left + BOX_W / 2) / W, y=1 - (top + 2.5) / H,
        xanchor="center", yanchor="bottom", showarrow=False,
        font=dict(family=FONT, size=15, color="black"),
    ))

fig.update_layout(
    width=W, height=H,
    margin=dict(l=0, r=0, t=0, b=0, pad=0, autoexpand=False),
    paper_bgcolor="white", plot_bgcolor="white",
    annotations=annotations,
    **layout,
)
fig.write_html("out.html")
